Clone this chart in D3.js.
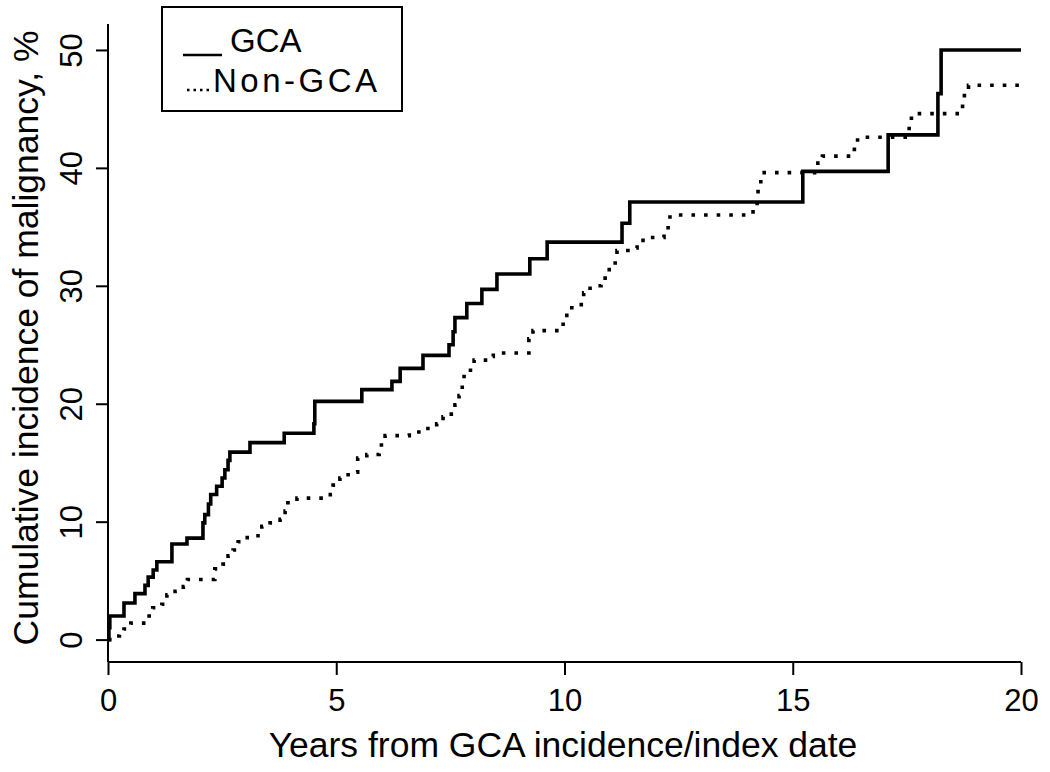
<!DOCTYPE html>
<html>
<head>
<meta charset="utf-8">
<script src="https://cdn.jsdelivr.net/npm/d3@7"></script>
<style>
  body { margin: 0; background: #fff; }
  text { font-family: "Liberation Sans", Arial, sans-serif; fill: #000; }
</style>
</head>
<body>
<script>
  /*
    DATA
  */

  // GCA cohort: step times (years) and cumulative incidence (%)
  var gcaYears = [0, 0.02, 0.04, 0.35, 0.59, 0.81, 0.88, 0.99, 1.07, 1.40, 1.73, 2.08, 2.12, 2.20, 2.25,
    2.38, 2.50, 2.56, 2.63, 2.67, 3.11, 3.86, 4.51, 4.53, 5.56, 6.22, 6.40, 6.90, 7.47, 7.56, 7.60,
    7.86, 8.19, 8.52, 9.24, 9.62, 11.26, 11.43, 15.22, 17.09, 18.18, 18.25, 20.0];
  var gcaValues = [0, 1.0, 2.0, 3.1, 3.9, 4.6, 5.3, 5.9, 6.6, 8.1, 8.6, 9.9, 10.6, 11.5, 12.3,
    13.0, 13.7, 14.4, 15.2, 15.9, 16.7, 17.5, 18.3, 20.2, 21.2, 21.9, 23.0, 24.1, 25.0, 26.1, 27.3,
    28.5, 29.7, 31.0, 32.3, 33.7, 35.3, 37.1, 39.7, 42.8, 46.3, 50.0, 50.0];

  // Non-GCA cohort
  var nonYears = [0, 0.10, 0.25, 0.35, 0.50, 0.90, 0.98, 1.18, 1.29, 1.47, 1.65, 1.74, 2.34, 2.52,
    2.63, 2.74, 2.85, 3.05, 3.37, 3.55, 3.77, 3.88, 3.94, 4.14, 4.87, 4.93, 5.08, 5.26, 5.47, 5.67,
    5.94, 6.07, 6.60, 6.86, 7.20, 7.34, 7.52, 7.60, 7.69, 7.76, 7.80, 7.94, 8.02, 8.31, 8.44, 9.22,
    9.31, 9.97, 10.05, 10.16, 10.42, 10.56, 10.80, 10.89, 10.98, 11.11, 11.15, 11.39, 11.59, 11.72,
    12.18, 12.27, 12.31, 14.13, 14.22, 14.24, 14.30, 15.55, 15.65, 16.35, 16.42, 17.55, 17.60,
    18.72, 18.76, 18.85, 20.0];
  var nonValues = [0, 0.3, 0.6, 0.9, 1.4, 2.0, 2.7, 3.0, 3.8, 4.1, 4.5, 5.1, 6.0, 6.4,
    7.1, 7.6, 8.3, 8.8, 9.6, 9.9, 10.2, 10.9, 11.6, 12.0, 12.3, 13.1, 13.7, 14.2, 15.4, 15.7,
    16.5, 17.3, 17.6, 17.9, 18.3, 18.9, 19.3, 19.9, 20.7, 21.4, 22.5, 23.0, 23.7, 24.0, 24.3, 25.5,
    26.2, 27.0, 27.7, 28.4, 29.4, 30.0, 30.2, 30.9, 31.6, 32.1, 33.0, 33.2, 33.6, 34.1,
    34.4, 35.2, 36.0, 36.6, 37.4, 38.2, 39.6, 40.4, 41.0, 41.9, 42.6, 43.6, 44.6,
    45.5, 46.6, 47.0, 47.0];

  // Axis ticks and labels
  var xTicks = [0, 5, 10, 15, 20];
  var yTicks = [0, 10, 20, 30, 40, 50];
  var legendLabels = ["GCA", "Non-GCA"];
  var xTitle = "Years from GCA incidence/index date";
  var yTitle = "Cumulative incidence of malignancy, %";

  /*
    SCALES
  */

  var width = 1050, height = 772;

  var x = d3.scaleLinear().domain([0, 20]).range([108, 1021]);
  var y = d3.scaleLinear().domain([-1.9, 52.2]).range([662, 24]);

  var svg = d3.select("body").append("svg")
      .attr("width", width)
      .attr("height", height);

  svg.append("rect")
      .attr("width", width)
      .attr("height", height)
      .attr("fill", "#fff");

  // Build (year, value) pairs
  var gca = gcaYears.map(function(t, i) { return [t, gcaValues[i]]; });
  var non = nonYears.map(function(t, i) { return [t, nonValues[i]]; });

  /*
    AXES (R style: L-shaped, outward ticks)
  */

  var xAxis = d3.axisBottom(x).tickValues(xTicks).tickSize(13).tickPadding(12).tickFormat(d3.format("d"));
  var gx = svg.append("g")
      .attr("transform", "translate(0," + y.range()[0] + ")")
      .call(xAxis);
  gx.select(".domain").attr("d", "M" + x.range()[0] + ",0H" + x.range()[1]);
  gx.selectAll("line, path").attr("stroke", "#000").attr("stroke-width", 2);
  gx.selectAll("text")
      .style("font-size", "31px")
      .attr("dy", "0.71em")
      .attr("y", 27);

  var yAxis = d3.axisLeft(y).tickValues(yTicks).tickSize(12).tickFormat(d3.format("d"));
  var gy = svg.append("g")
      .attr("transform", "translate(" + x.range()[0] + ",0)")
      .call(yAxis);
  gy.select(".domain").attr("d", "M0," + y.range()[1] + "V" + y.range()[0]);
  gy.selectAll("line, path").attr("stroke", "#000").attr("stroke-width", 2);
  // rotated tick labels, parallel to the axis
  gy.selectAll(".tick text")
      .style("font-size", "31px")
      .attr("x", null)
      .attr("dy", null)
      .attr("text-anchor", "middle")
      .attr("transform", "translate(-26,0) rotate(-90)");

  svg.append("text")
      .attr("x", 563)
      .attr("y", 757)
      .attr("text-anchor", "middle")
      .style("font-size", "35.5px")
      .text(xTitle);

  svg.append("text")
      .attr("transform", "translate(38,338) rotate(-90)")
      .attr("text-anchor", "middle")
      .style("font-size", "35.5px")
      .text(yTitle);

  /*
    CURVES
  */

  var step = d3.line()
      .x(function(d) { return x(d[0]); })
      .y(function(d) { return y(d[1]); })
      .curve(d3.curveStepAfter);

  svg.append("path")
      .datum(non)
      .attr("d", step)
      .attr("fill", "none")
      .attr("stroke", "#000")
      .attr("stroke-width", 3.6)
      .attr("stroke-dasharray", "3.6,9");

  svg.append("path")
      .datum(gca)
      .attr("d", step)
      .attr("fill", "none")
      .attr("stroke", "#000")
      .attr("stroke-width", 3.6);

  /*
    LEGEND
  */

  var legend = svg.append("g");
  legend.append("rect")
      .attr("x", 162).attr("y", 7)
      .attr("width", 240).attr("height", 104)
      .attr("fill", "#fff")
      .attr("stroke", "#000")
      .attr("stroke-width", 2);

  legend.append("line")
      .attr("x1", 183).attr("x2", 222)
      .attr("y1", 55).attr("y2", 55)
      .attr("stroke", "#000")
      .attr("stroke-width", 2.5);

  legend.append("line")
      .attr("x1", 187).attr("x2", 213)
      .attr("y1", 90).attr("y2", 90)
      .attr("stroke", "#000")
      .attr("stroke-width", 2.5)
      .attr("stroke-dasharray", "2.5,4");

  legend.selectAll("text.leg")
      .data(legendLabels)
      .enter().append("text")
      .attr("class", "leg")
      .attr("x", function(d, i) { return i == 0 ? 230 : 213; })
      .attr("y", function(d, i) { return i == 0 ? 52 : 92; })
      .style("font-size", "33px")
      .style("letter-spacing", function(d, i) { return i == 0 ? "0px" : "3.5px"; })
      .text(function(d) { return d; });
</script>
</body>
</html>
